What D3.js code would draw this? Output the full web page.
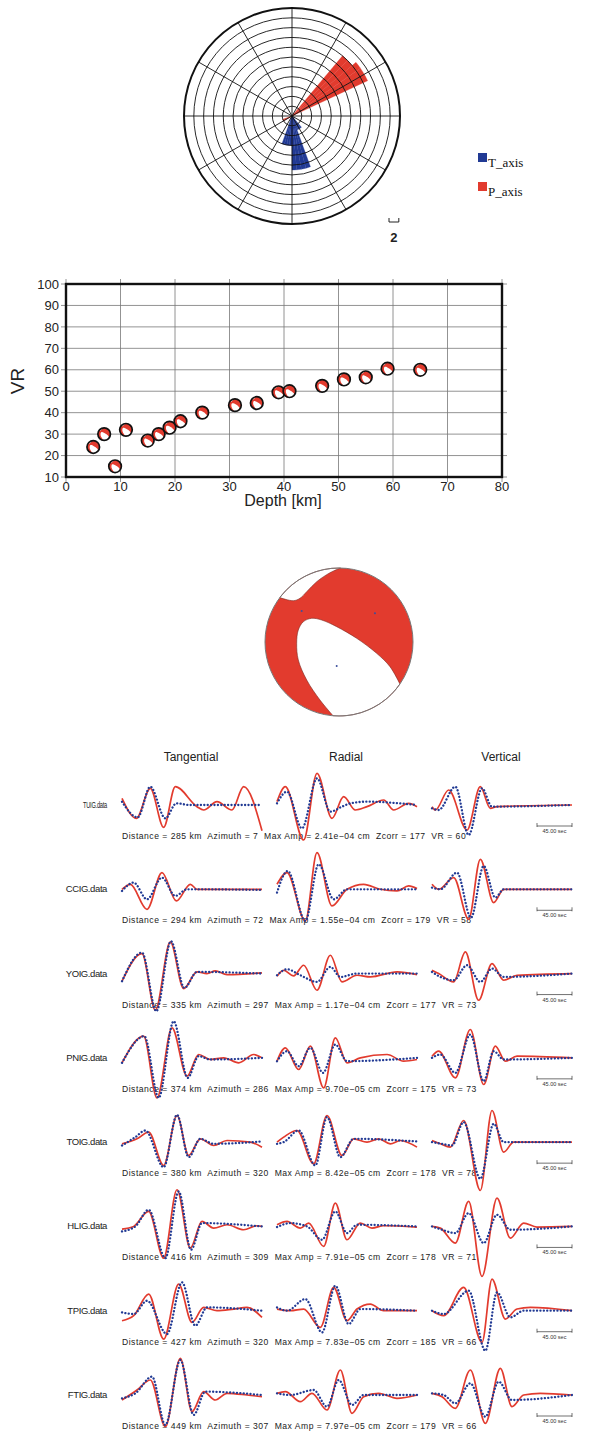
<!DOCTYPE html>
<html>
<head>
<meta charset="utf-8">
<script src="https://cdn.jsdelivr.net/npm/d3@7"></script>
<style>
  body { margin: 0; background: #fff; }
  svg { display: block; }
</style>
</head>
<body>
<svg id="fig" width="594" height="1435"></svg>
<script>
// ---- rose diagram: [azimuth bin start (deg), count], 5 degree bins
const binWidth = 5;
const pAxisBins = [[40, 16], [45, 16], [50, 17], [55, 17], [60, 17], [240, 2], [245, 2]];
const tAxisBins = [[140, 3], [145, 3], [150, 3], [155, 3], [160, 11], [165, 11], [170, 11], [175, 11],
                   [180, 6], [185, 6], [190, 6], [195, 6]];
const roseMax = 22;
const roseStep = 2;

// ---- VR vs depth
const depths = [5, 7, 9, 11, 15, 17, 19, 21, 25, 31, 35, 39, 41, 47, 51, 55, 59, 65];
const vrValues = [24, 30, 15, 32, 27, 30, 33, 36, 40, 43.5, 44.5, 49.5, 50, 52.5, 55.5, 56.5, 60.5, 60];

// ---- focal mechanism nodal lines (unit circle, y up)
const capLine = [[-0.80, 0.60], [-0.618, 0.558], [-0.527, 0.591], [-0.436, 0.680], [-0.301, 0.815],
                 [-0.122, 0.936], [0.02, 1.0]];
const blobLine = [[-0.08, -0.997], [-0.257, -0.784], [-0.436, -0.514], [-0.550, -0.243], [-0.572, -0.018],
                  [-0.550, 0.162], [-0.482, 0.274], [-0.369, 0.320], [-0.234, 0.297], [-0.031, 0.207],
                  [0.239, 0.050], [0.509, -0.153], [0.689, -0.333], [0.824, -0.568]];
const axisDots = [[-0.504, 0.419], [0.486, 0.388], [-0.031, -0.324]];

// ---- waveform fits
const components = ['Tangential', 'Radial', 'Vertical'];
const stations = ['TUIG', 'CCIG', 'YOIG', 'PNIG', 'TOIG', 'HLIG', 'TPIG', 'FTIG'];
const distances = [285, 294, 335, 374, 380, 416, 427, 449];
const azimuths = [7, 72, 297, 286, 320, 309, 320, 307];
const maxAmps = ['2.41e\u221204', '1.55e\u221204', '1.17e\u221204', '9.70e\u221205', '8.42e\u221205',
                 '7.91e\u221205', '7.83e\u221205', '7.97e\u221205'];
const zcorr = [177, 179, 177, 175, 178, 178, 185, 179];
const stationVR = [60, 58, 73, 73, 78, 71, 66, 66];
const windowSamples = 420;   // 180 s window
const scaleBarSamples = 105; // 45 s

// [sample, amplitude] at turning points, per component T, R, V
const obsTUIG = [
  [[0,20],[43,-40],[85,50],[125,-67],[160,55],[225,-5],[245,-15],[285,10],[330,-15],[365,55],[420,-77]],
  [[0,10],[25,55],[80,-105],[120,95],[165,-40],[200,25],[235,-15],[270,-5],[320,15],[350,-15],[395,5],[420,-5]],
  [[0,-5],[10,-15],[50,45],[105,-75],[145,55],[175,-10],[195,-5],[420,0]]];
const synTUIG = [
  [[0,10],[47,-37],[85,55],[130,-40],[163,5],[205,0],[420,0]],
  [[0,5],[30,40],[75,-70],[120,80],[160,-20],[195,-5],[220,5],[270,10],[420,0]],
  [[0,-10],[20,-15],[70,55],[110,-90],[150,50],[180,-5],[420,0]]];

const obsCCIG = [
  [[0,0],[25,15],[75,-60],[120,50],[163,-35],[205,15],[225,0],[420,0]],
  [[0,15],[30,50],[85,-95],[120,110],[165,-50],[210,0],[260,15],[310,0],[360,-5],[395,10],[420,2]],
  [[0,15],[20,0],[65,35],[110,-90],[145,90],[185,-40],[215,0],[420,0]]];
const synCCIG = [
  [[0,-5],[35,20],[75,-30],[120,35],[160,-20],[195,0],[420,-2]],
  [[0,-10],[32,55],[85,-95],[125,75],[170,-30],[210,0],[420,0]],
  [[0,5],[25,0],[75,50],[117,-85],[155,70],[190,-25],[215,0],[420,0]]];

const obsYOIG = [
  [[0,-23],[60,60],[100,-110],[145,95],[185,-45],[225,5],[255,0],[280,8],[315,-3],[420,2]],
  [[0,-8],[20,10],[50,-7],[80,25],[120,-50],[160,55],[195,-25],[240,-5],[280,-10],[360,5],[420,-3]],
  [[0,10],[20,0],[65,-25],[100,65],[140,-80],[180,30],[215,-20],[255,-5],[420,0]]];
const synYOIG = [
  [[0,-23],[60,63],[103,-113],[147,97],[187,-43],[225,5],[420,0]],
  [[0,-5],[30,13],[70,-5],[120,-25],[160,20],[190,-10],[240,0],[420,0]],
  [[0,5],[25,-10],[65,-20],[105,25],[145,-25],[180,15],[215,-10],[420,0]]];

const obsPNIG = [
  [[0,-15],[65,65],[105,-120],[150,90],[195,-55],[230,10],[265,-5],[305,0],[350,-15],[395,10],[420,0]],
  [[0,-10],[25,30],[65,-35],[100,35],[140,-90],[175,60],[210,-15],[250,0],[330,10],[380,-10],[420,-5]],
  [[0,5],[20,20],[70,-60],[115,85],[155,-80],[190,35],[220,-10],[255,5],[420,0]]];
const synPNIG = [
  [[0,-15],[67,65],[110,-120],[155,110],[197,-60],[230,5],[265,-5],[420,0]],
  [[0,-10],[30,20],[65,-25],[100,30],[138,-45],[175,40],[210,-10],[420,0]],
  [[0,0],[25,10],[70,-45],[115,70],[155,-70],[185,20],[215,-5],[420,0]]];

const obsTOIG = [
  [[0,-5],[45,10],[80,30],[125,-70],[165,80],[200,-40],[235,10],[275,-10],[315,5],[385,0],[420,-15]],
  [[0,0],[20,15],[60,35],[110,-65],[150,80],[195,-40],[230,10],[270,0],[305,10],[340,-5],[370,5],[420,-15]],
  [[0,5],[25,-5],[55,-15],[95,65],[145,-145],[180,95],[215,-30],[245,0],[420,0]]];
const synTOIG = [
  [[0,-10],[40,15],[70,35],[125,-75],[165,82],[200,-45],[235,10],[275,-5],[420,2]],
  [[0,-5],[20,0],[65,35],[115,-70],[150,75],[190,-45],[230,10],[420,2]],
  [[0,0],[30,-5],[60,-10],[95,60],[145,-110],[185,55],[215,0],[420,0]]];

const obsHLIG = [
  [[0,-8],[35,0],[80,45],[125,-95],[165,110],[205,-65],[240,15],[275,-5],[315,5],[365,-10],[405,2],[420,0]],
  [[0,5],[30,15],[70,-5],[95,10],[140,-60],[175,70],[210,-40],[250,10],[285,-5],[320,2],[420,-2]],
  [[0,0],[25,-5],[70,-50],[110,75],[150,-150],[195,85],[235,-35],[275,10],[315,-2],[420,0]]];
const synHLIG = [
  [[0,-15],[40,0],[80,50],[130,-95],[170,105],[207,-70],[240,10],[420,0]],
  [[0,-2],[40,10],[90,0],[135,-40],[175,45],[210,-20],[240,5],[420,0]],
  [[0,0],[30,-10],[70,-20],[110,40],[155,-50],[195,35],[235,-10],[420,0]]];

const obsTPIG = [
  [[0,-30],[35,-15],[80,50],[125,-85],[170,80],[210,-35],[245,10],[285,0],[335,5],[375,10],[420,-20]],
  [[0,5],[40,0],[80,5],[130,-50],[170,70],[210,-30],[240,5],[280,20],[320,0],[420,0]],
  [[0,0],[35,-15],[95,70],[150,-95],[180,95],[220,-25],[255,5],[295,10],[420,0]]];
const synTPIG = [
  [[0,-5],[35,-10],[75,30],[135,-70],[180,85],[220,-45],[255,10],[420,0]],
  [[0,10],[30,0],[85,35],[135,-65],[175,75],[215,-40],[250,5],[420,0]],
  [[0,0],[35,-10],[110,60],[160,-120],[195,55],[235,-20],[275,0],[420,0]]];

const obsFTIG = [
  [[0,-15],[45,15],[85,45],[130,-95],[175,110],[210,-50],[245,10],[280,-15],[315,5],[375,0],[420,-5]],
  [[0,5],[25,10],[70,-20],[105,5],[150,-45],[190,75],[225,-55],[260,-5],[305,5],[360,-10],[420,0]],
  [[0,5],[30,-5],[70,-40],[115,75],[160,-85],[205,80],[240,-35],[275,0],[325,5],[420,0]]];
const synFTIG = [
  [[0,-10],[40,5],[90,55],[130,-90],[175,105],[215,-60],[250,10],[420,0]],
  [[0,5],[40,0],[110,15],[150,-35],[185,45],[225,-30],[260,0],[420,0]],
  [[0,5],[35,0],[70,-25],[115,35],[160,-65],[200,40],[240,-15],[420,0]]];

const observed = [obsTUIG, obsCCIG, obsYOIG, obsPNIG, obsTOIG, obsHLIG, obsTPIG, obsFTIG];
const synthetic = [synTUIG, synCCIG, synYOIG, synPNIG, synTOIG, synHLIG, synTPIG, synFTIG];

// ---- styles
const sans = '"Liberation Sans", Arial, Helvetica, sans-serif';
const red = '#e23b2e';
const blue = '#213a94';

const svg = d3.select('#fig');

// ================= Rose diagram =================
const rose = svg.append('g').attr('transform', 'translate(292,116)');
const rScale = d3.scaleLinear().domain([0, roseMax]).range([0, 108]);
const rad = Math.PI / 180;
const wedge = d3.arc()
  .innerRadius(0)
  .outerRadius(d => rScale(d[1]))
  .startAngle(d => d[0] * rad)
  .endAngle(d => (d[0] + binWidth) * rad);

rose.append('g').selectAll('path').data(pAxisBins).join('path')
  .attr('d', wedge).attr('fill', red).attr('stroke', red).attr('stroke-width', 0.3);
rose.append('g').selectAll('path').data(tAxisBins).join('path')
  .attr('d', wedge).attr('fill', blue).attr('stroke', blue).attr('stroke-width', 0.3);

// rings and spokes drawn on top
rose.append('g').selectAll('circle').data(d3.range(roseStep, roseMax + 1, roseStep)).join('circle')
  .attr('r', d => rScale(d))
  .attr('fill', 'none')
  .attr('stroke', '#111')
  .attr('stroke-width', d => d === roseMax ? 2 : 0.9);
rose.append('g').selectAll('line').data(d3.range(0, 360, 30)).join('line')
  .attr('x1', 0).attr('y1', 0)
  .attr('x2', d => rScale(roseMax) * Math.sin(d * rad))
  .attr('y2', d => -rScale(roseMax) * Math.cos(d * rad))
  .attr('stroke', '#111').attr('stroke-width', 0.9);

// scale bracket
const bx = 389, by = 222;
svg.append('path')
  .attr('d', `M${bx},${by - 4}V${by}H${bx + rScale(roseStep)}V${by - 4}`)
  .attr('fill', 'none').attr('stroke', '#222').attr('stroke-width', 1);
svg.append('text').attr('x', bx + rScale(roseStep) / 2).attr('y', 242)
  .attr('text-anchor', 'middle').attr('font-family', sans).attr('font-weight', 'bold')
  .attr('font-size', 13).attr('fill', '#222').text(roseStep);

// legend
const legend = [['T_axis', blue], ['P_axis', red]];
const lg = svg.append('g').selectAll('g').data(legend).join('g')
  .attr('transform', (d, i) => `translate(478,${153 + i * 29})`);
lg.append('rect').attr('width', 9).attr('height', 9).attr('fill', d => d[1]);
lg.append('text').attr('x', 10).attr('y', 14)
  .attr('font-family', '"Liberation Serif", "Times New Roman", serif')
  .attr('font-size', 13).attr('fill', '#111').text(d => d[0]);

// ================= Beach ball helper =================
function drawBall(g, cx, cy, r, opts) {
  const x = d3.scaleLinear().domain([-1, 1]).range([cx - r, cx + r]);
  const y = d3.scaleLinear().domain([-1, 1]).range([cy + r, cy - r]);
  const line = d3.line().x(d => x(d[0])).y(d => y(d[1])).curve(d3.curveCatmullRom);
  g.append('circle').attr('cx', cx).attr('cy', cy).attr('r', r).attr('fill', red);
  const c0 = capLine[0];
  g.append('path')
    .attr('d', line(capLine) + `A${r},${r} 0 0,0 ${x(c0[0])},${y(c0[1])}Z`)
    .attr('fill', '#fff').attr('stroke', opts.inner).attr('stroke-width', opts.innerWidth);
  const b0 = blobLine[0];
  g.append('path')
    .attr('d', line(blobLine) + `A${r},${r} 0 0,1 ${x(b0[0])},${y(b0[1])}Z`)
    .attr('fill', '#fff').attr('stroke', opts.inner).attr('stroke-width', opts.innerWidth);
  if (opts.dots) {
    g.selectAll('circle.dot').data(axisDots).join('circle')
      .attr('class', 'dot')
      .attr('cx', d => x(d[0])).attr('cy', d => y(d[1])).attr('r', 1)
      .attr('fill', '#3b4f9c');
  }
  g.append('circle').attr('cx', cx).attr('cy', cy).attr('r', r)
    .attr('fill', 'none').attr('stroke', opts.outline).attr('stroke-width', opts.outlineWidth);
}

// ================= VR vs depth =================
const xVR = d3.scaleLinear().domain([0, 80]).range([66, 502]);
const yVR = d3.scaleLinear().domain([10, 100]).range([477, 284]);
const vr = svg.append('g');
const tickLen = 5;

vr.append('g').selectAll('line').data(xVR.ticks(8)).join('line')
  .attr('x1', d => xVR(d)).attr('x2', d => xVR(d))
  .attr('y1', yVR.range()[1] - tickLen).attr('y2', yVR.range()[0] + tickLen)
  .attr('stroke', '#777').attr('stroke-width', 0.8);
vr.append('g').selectAll('line').data(yVR.ticks(9)).join('line')
  .attr('y1', d => yVR(d)).attr('y2', d => yVR(d))
  .attr('x1', xVR.range()[0] - tickLen).attr('x2', xVR.range()[1] + tickLen)
  .attr('stroke', '#777').attr('stroke-width', 0.8);
vr.append('rect')
  .attr('x', xVR.range()[0]).attr('y', yVR.range()[1])
  .attr('width', xVR.range()[1] - xVR.range()[0])
  .attr('height', yVR.range()[0] - yVR.range()[1])
  .attr('fill', 'none').attr('stroke', '#111').attr('stroke-width', 2.4);

vr.append('g').selectAll('text').data(xVR.ticks(8)).join('text')
  .attr('x', d => xVR(d)).attr('y', 491)
  .attr('text-anchor', 'middle').attr('font-family', sans).attr('font-size', 13)
  .attr('fill', '#222').text(d => d);
vr.append('g').selectAll('text').data(yVR.ticks(9)).join('text')
  .attr('x', 59).attr('y', d => yVR(d)).attr('dy', '0.36em')
  .attr('text-anchor', 'end').attr('font-family', sans).attr('font-size', 13)
  .attr('fill', '#222').text(d => d);
vr.append('text').attr('x', 283).attr('y', 506)
  .attr('text-anchor', 'middle').attr('font-family', sans).attr('font-size', 16)
  .attr('fill', '#222').text('Depth [km]');
vr.append('text').attr('transform', 'translate(24,381) rotate(-90)')
  .attr('text-anchor', 'middle').attr('font-family', sans).attr('font-size', 19)
  .attr('fill', '#222').text('VR');

depths.forEach((d, i) => {
  drawBall(vr.append('g'), xVR(d), yVR(vrValues[i]), 6.3,
    { inner: 'none', innerWidth: 0, outline: '#111', outlineWidth: 1.7, dots: false });
});

// ================= Focal mechanism =================
drawBall(svg.append('g'), 339, 642, 74,
  { inner: '#7a2a22', innerWidth: 0.6, outline: '#777', outlineWidth: 1, dots: true });

// ================= Waveforms =================
const colX = [122, 277, 432];
const traceWidth = 140;
const rowY = d3.scaleLinear().domain([0, stations.length - 1]).range([805, 1395]);
const tScale = d3.scaleLinear().domain([0, windowSamples]).range([0, traceWidth]);
const aScale = d3.scaleLinear().domain([-108, 108]).range([36, -36]);
const wave = d3.line().x(d => tScale(d[0])).y(d => aScale(d[1])).curve(d3.curveMonotoneX);

svg.append('g').selectAll('text').data(components).join('text')
  .attr('x', (d, i) => colX[i] + traceWidth / 2 - 1).attr('y', 761)
  .attr('text-anchor', 'middle').attr('font-family', sans).attr('font-size', 12)
  .attr('fill', '#222').text(d => d);

stations.forEach((s, i) => {
  const y0 = rowY(i);
  const row = svg.append('g');

  const label = row.append('text').attr('x', 107).attr('y', y0 + 3)
    .attr('text-anchor', 'end').attr('font-family', sans).attr('font-size', 9.5)
    .attr('letter-spacing', -0.4).attr('fill', '#222').text(s + '.data');
  if (i === 0) label.attr('textLength', 24).attr('lengthAdjust', 'spacingAndGlyphs');

  row.append('text').attr('x', colX[0]).attr('y', y0 + 34)
    .attr('font-family', sans).attr('font-size', 8.6).attr('fill', '#222')
    .attr('letter-spacing', 0.5)
    .style('white-space', 'pre')
    .text(`Distance = ${distances[i]} km  Azimuth = ${azimuths[i]}  Max Amp = ${maxAmps[i]} cm  Zcorr = ${zcorr[i]}  VR = ${stationVR[i]}`);

  // 45 s scale bar
  const sx0 = colX[2] + traceWidth - tScale(scaleBarSamples);
  const sx1 = colX[2] + traceWidth;
  const sy = y0 + 21;
  row.append('path')
    .attr('d', `M${sx0},${sy - 3}V${sy + 1}M${sx0},${sy}H${sx1}M${sx1},${sy - 3}V${sy + 1}`)
    .attr('fill', 'none').attr('stroke', '#333').attr('stroke-width', 0.7);
  row.append('text').attr('x', (sx0 + sx1) / 2).attr('y', sy + 7)
    .attr('text-anchor', 'middle').attr('font-family', sans).attr('font-size', 5.5)
    .attr('fill', '#333').text('45.00 sec');

  components.forEach((c, j) => {
    const g = row.append('g').attr('transform', `translate(${colX[j]},${y0})`);
    g.append('path').attr('d', wave(observed[i][j]))
      .attr('fill', 'none').attr('stroke', red).attr('stroke-width', 1.7);
    g.append('path').attr('d', wave(synthetic[i][j]))
      .attr('fill', 'none').attr('stroke', blue).attr('stroke-width', 2.3)
      .attr('stroke-linecap', 'round').attr('stroke-dasharray', '0.1,3.3');
  });
});
</script>
</body>
</html>
